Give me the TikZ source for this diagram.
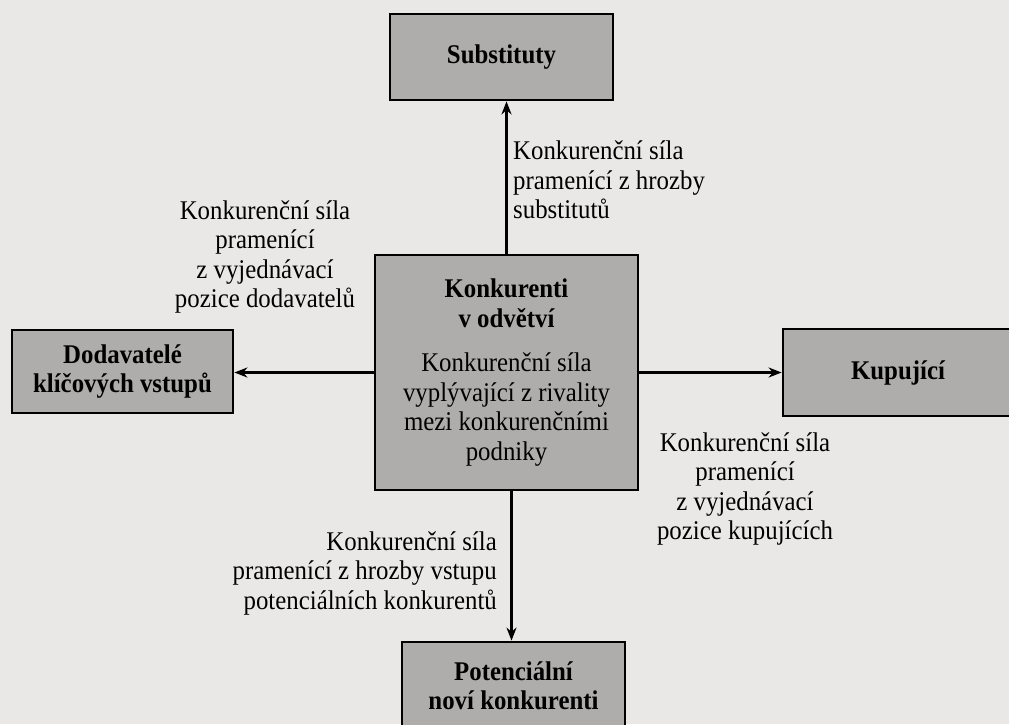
\documentclass[tikz,border=0pt]{standalone}
\usepackage{fontspec}
\setmainfont{Liberation Serif}[FakeStretch=0.92]
\usetikzlibrary{arrows.meta}
\definecolor{paper}{HTML}{E9E8E7}
\definecolor{boxgray}{HTML}{AEADAC}
\tikzset{
  box/.style={draw=black, line width=2.8pt, fill=boxgray, rectangle, inner sep=0pt,
    align=center, font=\fontsize{27}{29.5}\selectfont\bfseries},
  lbl/.style={inner sep=0pt, font=\fontsize{27}{29.5}\selectfont},
  arr/.style={line width=2.4pt, -{Stealth[length=13pt,width=10pt]}}
}
\begin{document}
\begin{tikzpicture}[x=1pt,y=-1pt]
\useasboundingbox (0,0) rectangle (1009,724);
\fill[paper] (0,0) rectangle (1009,724);
\clip (0,0) rectangle (1009,724);
% boxes
\node[box, minimum width=223pt, minimum height=86pt] (sub) at (501.5,57) {Substituty};
\node[box, minimum width=263pt, minimum height=235pt] (cen) at (506.5,372.5)
  {Konkurenti\\v odvětví\\[15pt]\mdseries Konkurenční síla\\\mdseries vyplývající z rivality\\\mdseries mezi konkurenčními\\\mdseries podniky};
\node[box, minimum width=221pt, minimum height=83pt] (dod) at (122.5,371.5) {Dodavatelé\\klíčových vstupů};
\node[box, minimum width=237pt, minimum height=87pt, text width=230pt] (kup) at (901.5,372.5) {\hspace*{-7pt}Kupující};
\node[box, minimum width=223pt, minimum height=88pt] (pot) at (513.5,686) {Potenciální\\noví konkurenti};
% labels
\node[lbl, anchor=west, align=left] (lsub) at (513,180) {Konkurenční síla\\pramenící z hrozby\\substitutů};
\node[lbl, align=center] (ldod) at (265,257) {Konkurenční síla\\pramenící\\z vyjednávací\\pozice dodavatelů};
\node[lbl, align=center] (lkup) at (745,489) {Konkurenční síla\\pramenící\\z vyjednávací\\pozice kupujících};
\node[lbl, anchor=east, align=right] (lpot) at (497,573) {Konkurenční síla\\pramenící z hrozby vstupu\\potenciálních konkurentů};
% connectors
\draw[arr] (cen.north) -- (cen.north |- sub.south);
\draw[arr] (cen.west) -- (cen.west -| dod.east);
\draw[arr] (cen.east) -- (cen.east -| kup.west);
\draw[arr] ([xshift=5pt]cen.south) -- ([xshift=5pt]cen.south |- pot.north);
\end{tikzpicture}
\end{document}
